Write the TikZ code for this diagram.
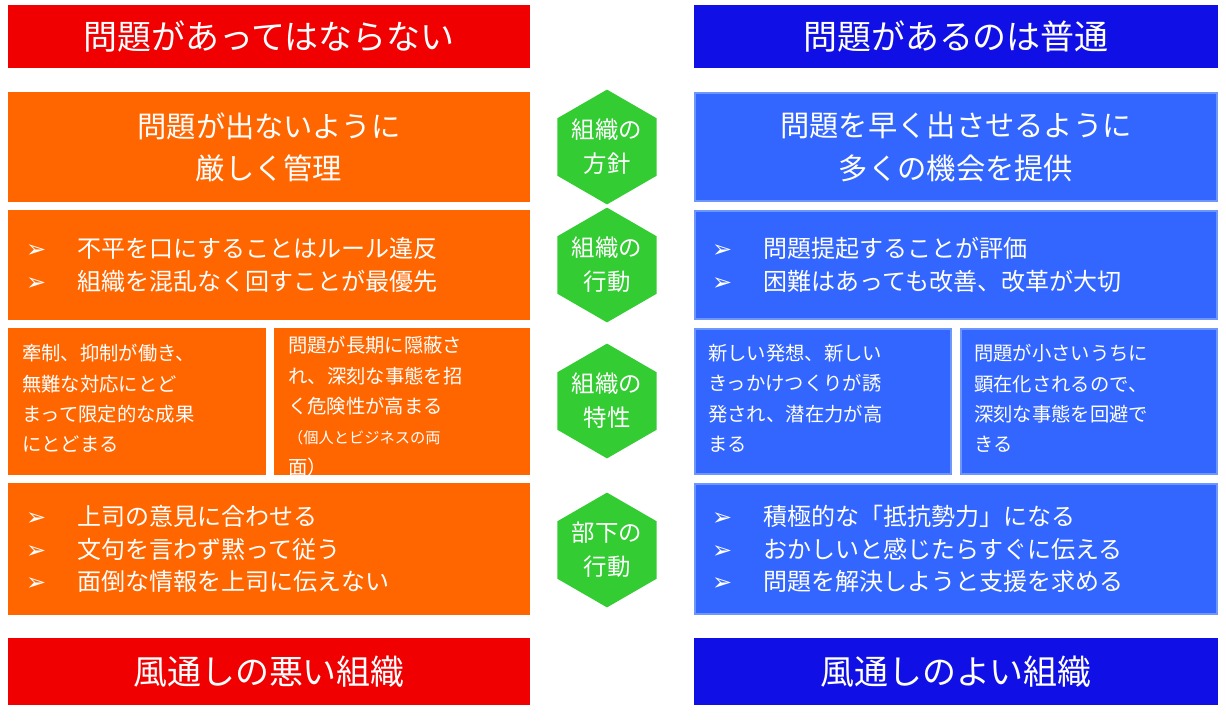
\documentclass[tikz,border=0pt]{standalone}
\usepackage{fontspec}
\setmainfont{Noto Sans CJK JP}
\newfontfamily\symfont{DejaVu Sans}
\usetikzlibrary{shapes.geometric}
\definecolor{hdred}{RGB}{240,0,0}
\definecolor{hdblue}{RGB}{16,16,230}
\definecolor{orng}{RGB}{255,102,0}
\definecolor{lblue}{RGB}{51,102,255}
\definecolor{lbord}{RGB}{110,150,255}
\definecolor{hexgrn}{RGB}{51,204,51}
\def\mk{{\symfont\char"27A2}\hspace{1.3em}}

\begin{document}
\begin{tikzpicture}[x=0.03cm,y=-0.03cm,
  header/.style={draw=none,inner sep=0,text=white,font=\fontsize{29}{34}\selectfont},
  obox/.style={fill=orng,draw=none},
  bbox/.style={fill=lblue,draw=lbord,line width=2.5pt},
  hexa/.style={regular polygon,regular polygon sides=6,shape border rotate=30,
    fill=hexgrn,minimum size=3.35cm,inner sep=0,text=white,align=center,
    font=\fontsize{20}{29}\selectfont},
  big/.style={text=white,align=center,font=\fontsize{25}{36}\selectfont},
  lst/.style={text=white,align=left,anchor=west,font=\fontsize{20.5}{28}\selectfont},
  sml/.style={text=white,align=left,anchor=north west,inner sep=0,font=\fontsize{16.5}{26}\selectfont}]
\useasboundingbox (0,0) rectangle (1226,722);
% headers
\fill[hdred] (8,5) rectangle (530,68);
\node[header] (hl) at (269,37) {問題があってはならない};
\fill[hdblue] (694,5) rectangle (1218,68);
\node[header] (hr) at (956,37) {問題があるのは普通};
\fill[hdred] (8,638) rectangle (530,705);
\node[header] (fl) at (269,672) {風通しの悪い組織};
\fill[hdblue] (694,638) rectangle (1218,705);
\node[header] (fr) at (956,672) {風通しのよい組織};
% left side
\fill[obox] (8,92) rectangle (530,202);
\node[big] (l1) at (269,147) {問題が出ないように\\厳しく管理};
\fill[obox] (8,210) rectangle (530,320);
\node[lst] (l2) at (22,265) {\mk 不平を口にすることはルール違反\\\mk 組織を混乱なく回すことが最優先};
\fill[obox] (8,328) rectangle (266,475);
\node[sml] (l3a) at (22,344) {牽制、抑制が働き、\\無難な対応にとど\\まって限定的な成果\\にとどまる};
\fill[obox] (274,328) rectangle (530,475);
\node[sml] (l3b) at (288,336) {問題が長期に隠蔽さ\\れ、深刻な事態を招\\く危険性が高まる\\\fontsize{13}{22}\selectfont （個人とビジネスの両\\面）};
\fill[obox] (8,483) rectangle (530,615);
\node[lst] (l4) at (22,549) {\mk 上司の意見に合わせる\\\mk 文句を言わず黙って従う\\\mk 面倒な情報を上司に伝えない};
% right side
\draw[bbox] (695,93) rectangle (1217,201);
\node[big] (r1) at (956,147) {問題を早く出させるように\\多くの機会を提供};
\draw[bbox] (695,211) rectangle (1217,319);
\node[lst] (r2) at (708,265) {\mk 問題提起することが評価\\\mk 困難はあっても改善、改革が大切};
\draw[bbox] (695,329) rectangle (951,474);
\node[sml] (r3a) at (708,344) {新しい発想、新しい\\きっかけつくりが誘\\発され、潜在力が高\\まる};
\draw[bbox] (961,329) rectangle (1217,474);
\node[sml] (r3b) at (974,344) {問題が小さいうちに\\顕在化されるので、\\深刻な事態を回避で\\きる};
\draw[bbox] (695,484) rectangle (1217,614);
\node[lst] (r4) at (708,549) {\mk 積極的な「抵抗勢力」になる\\\mk おかしいと感じたらすぐに伝える\\\mk 問題を解決しようと支援を求める};
% hexagons
\node[hexa] (h1) at (607,147) {組織の\\方針};
\node[hexa] (h2) at (607,265) {組織の\\行動};
\node[hexa] (h3) at (607,401) {組織の\\特性};
\node[hexa] (h4) at (607,550) {部下の\\行動};
\end{tikzpicture}
\end{document}
